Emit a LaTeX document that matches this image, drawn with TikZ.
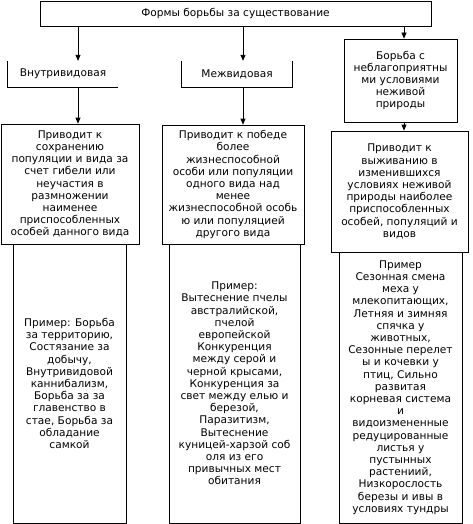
\documentclass[tikz,border=0pt]{standalone}
\usepackage{fontspec}
\setmainfont{DejaVu Sans}
\usetikzlibrary{arrows.meta}
\begin{document}
\begin{tikzpicture}[x=1pt,y=-1pt,
  box/.style={minimum width=#1, inner sep=0pt, align=center, font=\fontsize{10.6}{12.2}\selectfont},
  edge/.style={line width=0.75pt},
  arr/.style={line width=0.75pt,-{Triangle[length=6pt,width=5pt]}}]
\useasboundingbox (0,0) rectangle (472,524);
% top
\node[box=391pt, minimum height=25pt, draw, line width=0.75pt] (top) at (235.5,13.5) {Формы борьбы за существование};
% level 1
\node[box=110pt, minimum height=26pt] (b1) at (63,74) {Внутривидовая};
\node[box=110pt, minimum height=26pt] (b2) at (237,74) {Межвидовая};
\node[box=113pt, minimum height=83pt, draw, line width=0.75pt] (b3) at (400.5,80.5) {Борьба с\\неблагоприятны\\ми условиями\\неживой\\природы};
\draw[edge] (b1.north west) -- (b1.south west) -- (b1.south east);
\draw[edge] (b2.north west) -- (b2.south west) -- (b2.south east) -- (b2.north east);
% level 2
\node[box=138pt, minimum height=120pt, draw, line width=0.75pt] (c1) at (70,184) {Приводит к\\сохранению\\популяции и вида за\\счет гибели или\\неучастия в\\размножении\\наименее\\приспособленных\\особей данного вида};
\node[box=142pt, minimum height=119pt, draw, line width=0.75pt] (c2) at (233,184.5) {Приводит к победе\\более\\жизнеспособной\\особи или популяции\\одного вида над\\менее\\жизнеспособной особь\\ю или популяцией\\другого вида};
\node[box=137pt, minimum height=121pt, draw, line width=0.75pt] (c3) at (399.5,191.5) {Приводит к\\выживанию в\\изменившихся\\условиях неживой\\природы наиболее\\приспособленных\\особей, популяций и\\видов};
% level 3
\node[box=113pt, minimum height=279pt, draw, line width=0.75pt] (d1) at (69.5,383.5) {Пример: Борьба\\за территорию,\\Состязание за\\добычу,\\Внутривидовой\\каннибализм,\\Борьба за за\\главенство в\\стае, Борьба за\\обладание\\самкой};
\node[box=131pt, minimum height=279pt, draw, line width=0.75pt] (d2) at (234.5,383.5) {Пример:\\Вытеснение пчелы\\австралийской,\\пчелой\\европейской\\Конкуренция\\между серой и\\черной крысами,\\Конкуренция за\\свет между елью и\\березой,\\Паразитизм,\\Вытеснение\\куницей-харзой соб\\оля из его\\привычных мест\\обитания};
\node[box=123pt, minimum height=271pt, draw, line width=0.75pt] (d3) at (400.5,387.5) {Пример\\Сезонная смена\\меха у\\млекопитающих,\\Летняя и зимняя\\спячка у\\животных,\\Сезонные перелет\\ы и кочевки у\\птиц, Сильно\\развитая\\корневая система\\и\\видоизмененные\\редуцированные\\листья у\\пустынных\\растениий,\\Низкорослость\\березы и ивы в\\условиях тундры};
% arrow columns
\coordinate (x1) at (78,0);
\coordinate (x2) at (243,0);
\coordinate (x3) at (404,0);
\draw[arr] (top.south -| x1) -- (b1.north -| x1);
\draw[arr] (top.south -| x2) -- (b2.north -| x2);
\draw[arr] (top.south -| x3) -- (b3.north -| x3);
\draw[arr] (b1.south -| x1) -- (c1.north -| x1);
\draw[arr] (b2.south -| x2) -- (c2.north -| x2);
\draw[arr] (b3.south -| x3) -- (c3.north -| x3);
\end{tikzpicture}
\end{document}
